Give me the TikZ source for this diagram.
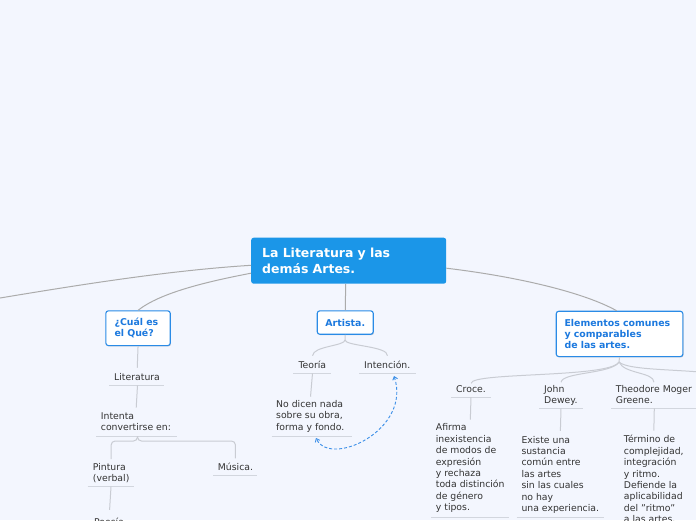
\documentclass[tikz,border=0pt]{standalone}
\usepackage{fontspec}
\setmainfont{DejaVu Sans}
\usetikzlibrary{arrows.meta,shadows}
\definecolor{bgc}{HTML}{F3F6FE}
\definecolor{mainbluec}{HTML}{1B96E8}
\definecolor{subbluec}{HTML}{2A8BE6}
\definecolor{subtextc}{HTML}{1C79DE}
\definecolor{txtc}{HTML}{333333}
\definecolor{mconnc}{HTML}{ABABAB}
\definecolor{bconnc}{HTML}{C9CCD3}
\definecolor{ulinec}{HTML}{D2D6DE}
\definecolor{relc}{HTML}{3B8FE8}
\begin{document}
\begin{tikzpicture}[x=1pt,y=-1pt,
  mainbox/.style={fill=mainbluec, rounded corners=2.5pt, anchor=north west, text=white,
    font=\fontsize{12.5}{15.5}\selectfont\bfseries, align=left, text width=173pt,
    inner xsep=11pt, inner ysep=0pt, minimum width=195pt, minimum height=46pt},
  subbox/.style={draw=subbluec, line width=1.1pt, fill=white, rounded corners=2.5pt,
    anchor=north west, text=subtextc, font=\fontsize{9.4}{11}\selectfont\bfseries,
    inner ysep=0pt, drop shadow={shadow xshift=0.7pt,shadow yshift=-0.9pt,opacity=0.18,fill=black}},
  leaf/.style={anchor=base west, inner sep=0pt, text=txtc, font=\fontsize{9.3}{11.4}\selectfont, align=left},
  leafm/.style={leaf, anchor=north west},
  mconn/.style={draw=mconnc, line width=1pt},
  bconn/.style={draw=bconnc, line width=1pt},
  uline/.style={draw=ulinec, line width=1pt},
  relline/.style={draw=relc, line width=0.9pt, dash pattern=on 3pt off 2pt,
    {Straight Barb[length=3pt,width=5pt]}-{Straight Barb[length=3pt,width=5pt]}}
]
\useasboundingbox (0,0) rectangle (696,520);
\fill[bgc] (0,0) rectangle (696,520);
\begin{scope}
\clip (0,0) rectangle (696,520);

% main and subtopics
\node[mainbox] (main) at (251,237.5) {La Literatura y las\\demás Artes.};
\node[subbox, text width=47pt, inner xsep=8.7pt, minimum height=34.7pt, align=left] (cual) at (105.3,310.3) {¿Cuál es\\el Qué?};
\node[subbox, text width=39.6pt, inner xsep=8.2pt, minimum height=23.4pt, align=center] (art) at (316.7,310.3) {Artista.};
\node[subbox, text width=110pt, inner xsep=8.3pt, minimum height=45.3pt, align=left] (elem) at (555.7,310.7) {Elementos comunes\\y comparables\\de las artes.};

% leaves
\node[leaf] (lit) at (114,380) {Literatura};
\node[leafm] (intenta) at (100.7,412.5) {Intenta\\convertirse en:};
\node[leafm] (pint) at (92.7,463.2) {Pintura\\(verbal)};
\node[leaf] (mus) at (217.7,470) {Música.};
\node[leaf] (poes) at (94,525.5) {Poesía};
\node[leaf] (teo) at (298.3,368.3) {Teoría};
\node[leaf] (inten) at (364,368.3) {Intención.};
\node[leafm] (nodic) at (276,400.2) {No dicen nada\\sobre su obra,\\forma y fondo.};
\node[leaf] (croce) at (456,392.3) {Croce.};
\node[leafm] (afirma) at (435.7,423.6) {Afirma\\inexistencia\\de modos de\\expresión\\y rechaza\\toda distinción\\de género\\y tipos.};
\node[leafm] (dewey) at (544,385.2) {John\\Dewey.};
\node[leafm] (existe) at (521.3,435.8) {Existe una\\sustancia\\común entre\\las artes\\sin las cuales\\no hay\\una experiencia.};
\node[leafm] (theo) at (615.7,385.2) {Theodore Moger\\Greene.};
\node[leafm] (termino) at (623.7,435.2) {Término de\\complejidad,\\integración\\y ritmo.\\Defiende la\\aplicabilidad\\del \symbol{34}ritmo\symbol{34}\\a las artes.};

% coordinates
\coordinate (offL) at (-30,303);
\coordinate (offR) at (712,373);
\coordinate (elemJ) at (619,362);
\coordinate (artJ) at (345,340);
\coordinate (litU) at (137.5,385.3);
\coordinate (intU) at (137.5,436);
\coordinate (intJ) at (137.5,441);
\coordinate (pinU) at (111,486.7);
\coordinate (teoU) at (312.5,373.3);
\coordinate (croU) at (471,397);
\coordinate (dewU) at (561,408.3);
\coordinate (theU) at (654.3,408.3);
\coordinate (relA) at (394,376);
\coordinate (relB) at (316,438);

% underlines
\draw[uline] (109.3,385.3) -- (163.7,385.3);
\draw[uline] (96,436) -- (177,436);
\draw[uline] (87.7,486.7) -- (134,486.7);
\draw[uline] (213,475.7) -- (256.7,475.7);
\draw[uline] (293.3,373.3) -- (331,373.3);
\draw[uline] (359,373.3) -- (416,373.3);
\draw[uline] (271.7,436) -- (352.3,436);
\draw[uline] (451,397) -- (490.7,397);
\draw[uline] (431,517) -- (509.3,517);
\draw[uline] (539,408.3) -- (582.7,408.3);
\draw[uline] (516.7,517) -- (604.3,517);
\draw[uline] (611,408.3) -- (700,408.3);

% main connectors
\draw[mconn] ([yshift=-4.6pt]main.west) .. controls (160,271) and (60,288) .. (offL);
\draw[mconn] ([yshift=-12.5pt]main.west) .. controls (205,282) and (160,293) .. (cual.north);
\draw[mconn] ([xshift=-3pt]main.south) -- (art.north);
\draw[mconn] ([yshift=-7.5pt]main.east) .. controls (520,277) and (585,293) .. ([xshift=-3pt]elem.north);

% branch connectors
\draw[bconn, shorten >=5pt] (cual.south) -- (lit.north);
\draw[bconn, shorten >=5pt] (litU) -- (intenta.north);
\draw[bconn, rounded corners=4pt, shorten >=4pt] (intU) -- (intJ) -| (pint.north);
\draw[bconn, rounded corners=4pt, shorten >=4pt] (intU) -- (intJ) -| (mus.north);
\draw[bconn, shorten >=8pt] (pinU) -- (poes.north);
\draw[bconn] (art.south) -- (artJ);
\draw[bconn, shorten >=5pt] (artJ) .. controls (345,346) and (313,346) .. (teo.north);
\draw[bconn, shorten >=5pt] (artJ) .. controls (345,346) and (388,346) .. (inten.north);
\draw[bconn, shorten >=3.5pt] (teoU) -- (nodic.north);
\draw[relline] (relA) .. controls (412,430) and (330,468) .. (relB);
\draw[bconn] (elem.south) -- (elemJ);
\draw[bconn, shorten >=2pt] (elemJ) .. controls (610,378) and (472,372) .. (croce.north);
\draw[bconn, shorten >=3pt] (elemJ) .. controls (612,374) and (562,372) .. (dewey.north);
\draw[bconn, shorten >=3pt] (elemJ) .. controls (624,374) and (654,372) .. (theo.north);
\draw[bconn] (elemJ) .. controls (628,370) and (670,369) .. (offR);
\draw[bconn, shorten >=4pt] (croU) -- (afirma.north);
\draw[bconn, shorten >=5pt] (dewU) -- (existe.north);
\draw[bconn, shorten >=4.6pt] (theU) -- (termino.north);
\end{scope}
\end{tikzpicture}
\end{document}
